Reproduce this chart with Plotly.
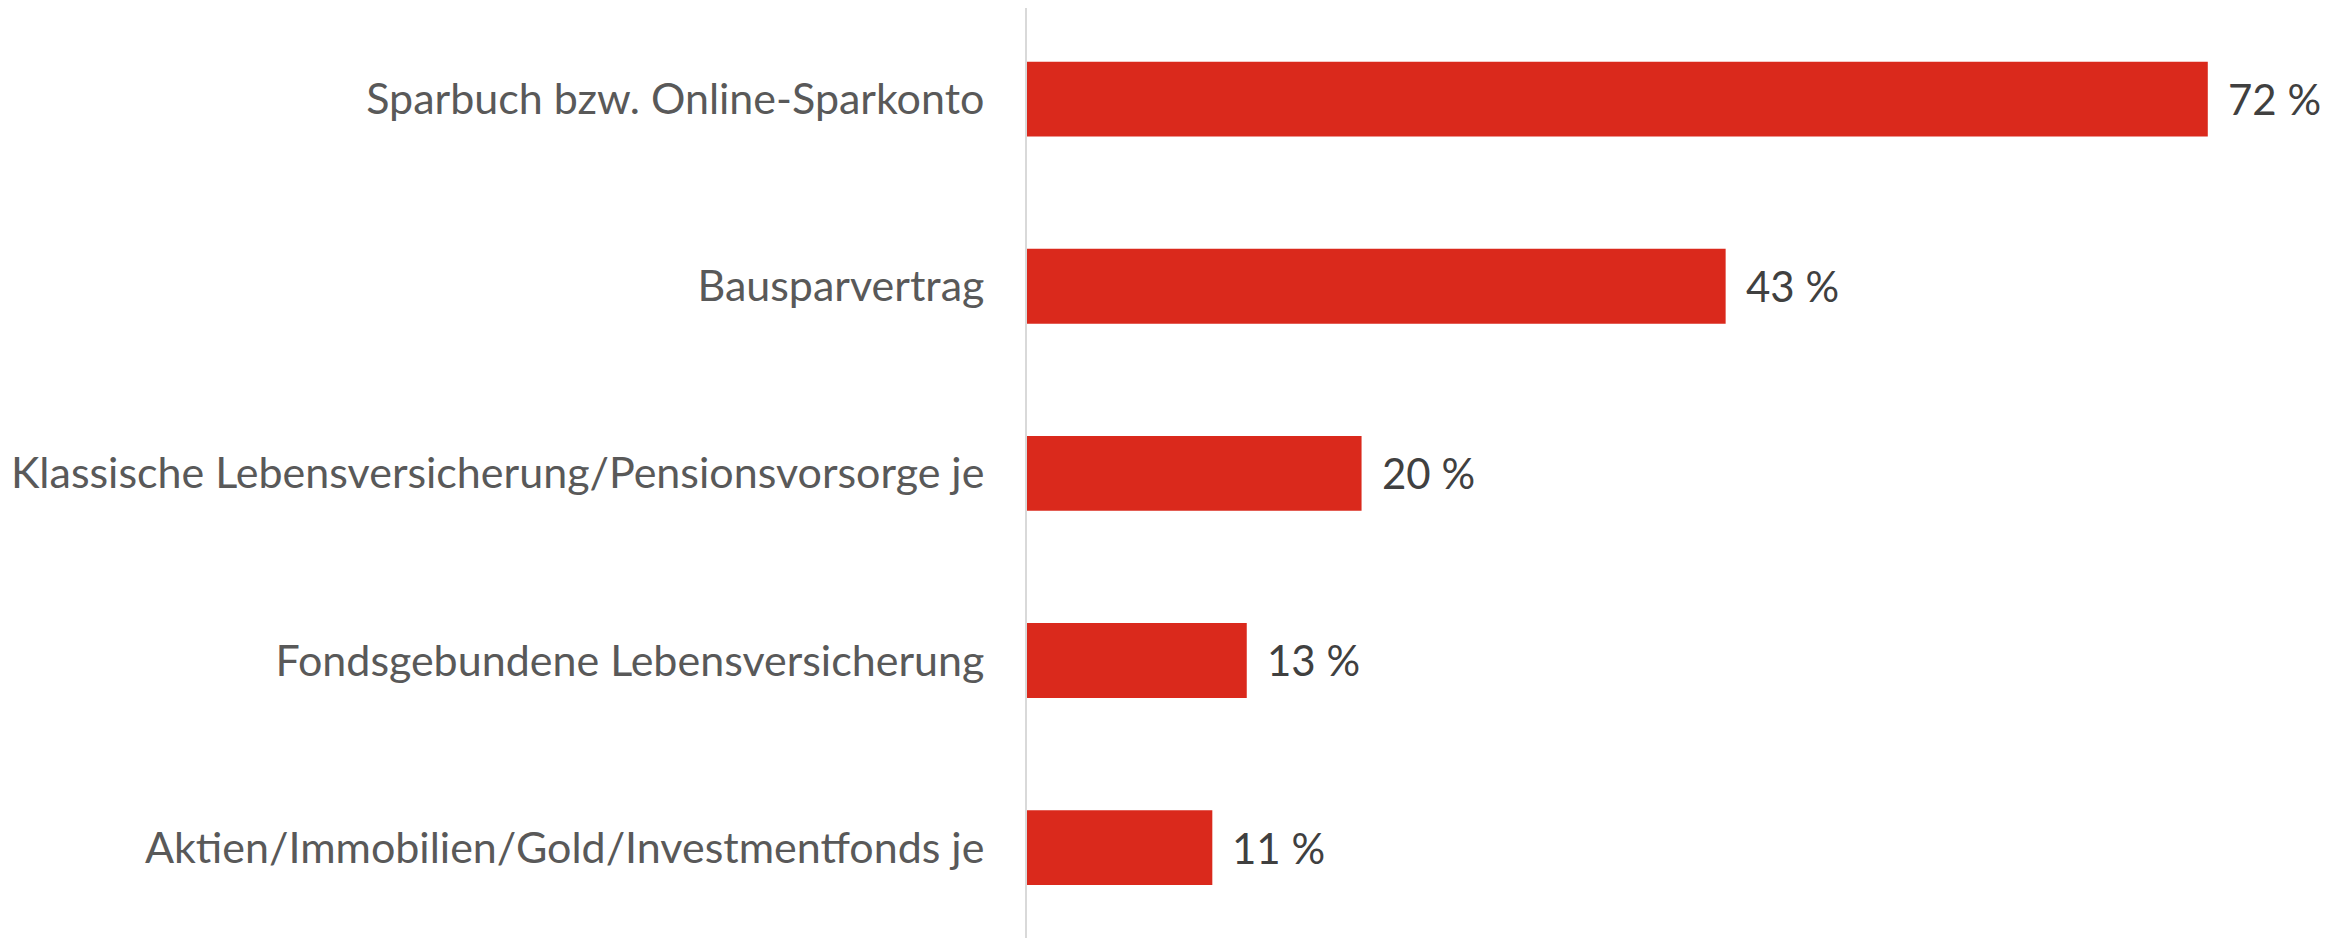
import plotly.graph_objects as go

categories = [
    "Sparbuch bzw. Online-Sparkonto",
    "Bausparvertrag",
    "Klassische Lebensversicherung/Pensionsvorsorge je",
    "Fondsgebundene Lebensversicherung",
    "Aktien/Immobilien/Gold/Investmentfonds je",
]
values = [72.0, 42.6, 20.4, 13.4, 11.3]
value_labels = ["72 %", "43 %", "20 %", "13 %", "11 %"]

FONT = "Lato"
positions = list(range(len(categories)))

fig = go.Figure()
fig.add_trace(go.Bar(
    y=positions,
    x=values,
    orientation="h",
    width=0.4,
    marker=dict(color="#DA291C", line=dict(width=0)),
    hoverinfo="skip",
))

for p, v, t in zip(positions, values, value_labels):
    fig.add_annotation(
        x=v, y=p, text=t, showarrow=False, xanchor="left", yanchor="middle",
        xshift=18, font=dict(family=FONT, size=42, color="#404040"),
    )

fig.update_layout(
    width=2351, height=938,
    margin=dict(l=1019, r=0, t=0, b=0),
    paper_bgcolor="white", plot_bgcolor="white",
    showlegend=False,
)
fig.update_xaxes(range=[0, 81.22], visible=False, showgrid=False, zeroline=False,
                 automargin=False)
fig.update_yaxes(
    tickmode="array", tickvals=positions, ticktext=categories,
    range=[4.526, -0.4874],
    showline=True, linecolor="#D9D9D9", linewidth=2,
    showgrid=False, zeroline=False, ticks="",
    ticklabelstandoff=32, automargin=False,
    tickfont=dict(family=FONT, size=43, color="#595959"),
)

fig.write_html("out.html")
